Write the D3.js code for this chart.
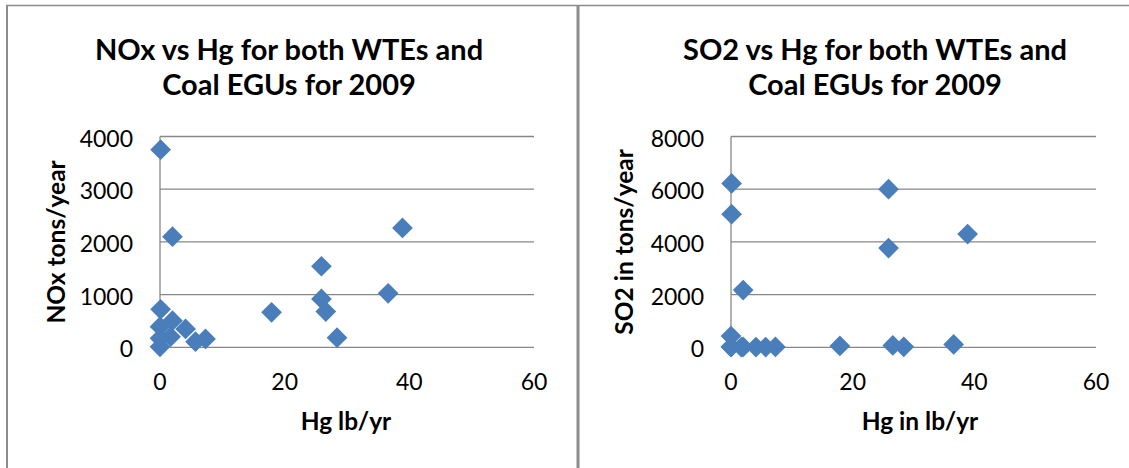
<!DOCTYPE html>
<html>
<head>
<meta charset="utf-8">
<script src="https://cdn.jsdelivr.net/npm/d3@7"></script>
<style>
    body { margin: 0; background: #fff; }
    svg { display: block; font-family: Lato, "Open Sans", sans-serif; }
    .grid line { stroke: #878787; stroke-width: 1.3; }
    .tick-label { font-size: 23px; fill: #000; }
    .axis-title { font-size: 24.5px; font-weight: bold; fill: #000; }
    .chart-title { font-size: 29px; font-weight: bold; fill: #000; }
</style>
</head>
<body>
<svg id="chart" width="1129" height="468"></svg>
<script>
// Hg (lb/yr) per facility, with matching NOx and SO2 (tons/year)
const hg  = [0.1, 0.1, 0, 0, 0, 2.0, 2.0, 1.7, 4.1, 5.7, 7.3, 17.9, 25.9, 25.9, 26.6, 28.4, 36.6, 38.9];
const nox = [3750, 721, 392, 171, 10, 2100, 506, 202, 348, 107, 158, 664, 1538, 917, 677, 183, 1025, 2266];
const so2 = [6220, 5050, 428, 20, 10, 2173, 15, 10, 10, 10, 15, 50, 6000, 3765, 70, 20, 110, 4296];

const xTicks = [0, 20, 40, 60];
const noxTicks = [0, 1000, 2000, 3000, 4000];
const so2Ticks = [0, 2000, 4000, 6000, 8000];

const charts = [
    {
        title: ["NOx vs Hg for both WTEs and", "Coal EGUs for 2009"],
        titleX: 289,
        yTitle: "NOx tons/year",
        yTitleX: 65,
        xTitle: "Hg lb/yr",
        xTitleX: 346,
        left: 160, right: 534,
        yValues: nox, yTicks: noxTicks
    },
    {
        title: ["SO2 vs Hg for both WTEs and", "Coal EGUs for 2009"],
        titleX: 875,
        yTitle: "SO2 in tons/year",
        yTitleX: 633,
        xTitle: "Hg in lb/yr",
        xTitleX: 920,
        left: 731, right: 1096,
        yValues: so2, yTicks: so2Ticks
    }
];

const plotTop = 136.5, plotBottom = 347.3;
const svg = d3.select("#chart");

// outer frame and separator
svg.append("line").attr("x1", 6).attr("x2", 1129).attr("y1", 5.5).attr("y2", 5.5)
    .attr("stroke", "#8c8c8c").attr("stroke-width", 1.5);
svg.append("line").attr("x1", 7).attr("x2", 7).attr("y1", 5).attr("y2", 468)
    .attr("stroke", "#8c8c8c").attr("stroke-width", 2);
svg.append("line").attr("x1", 578).attr("x2", 578).attr("y1", 5).attr("y2", 468)
    .attr("stroke", "#8c8c8c").attr("stroke-width", 3);

const diamond = d3.symbol(d3.symbolSquare, 215);

charts.forEach(c => {
    const x = d3.scaleLinear().domain([0, 60]).range([c.left, c.right]);
    const y = d3.scaleLinear().domain([0, d3.max(c.yTicks)]).range([plotBottom, plotTop]);
    const g = svg.append("g");

    // title
    c.title.forEach((t, i) => {
        g.append("text").attr("class", "chart-title")
            .attr("x", c.titleX).attr("y", 59.5 + i * 35.5)
            .attr("text-anchor", "middle").text(t);
    });

    // gridlines
    const grid = g.append("g").attr("class", "grid");
    grid.selectAll("line.h").data(c.yTicks).enter().append("line")
        .attr("x1", c.left).attr("x2", c.right)
        .attr("y1", d => y(d)).attr("y2", d => y(d));
    grid.append("line")
        .attr("x1", c.left).attr("x2", c.left)
        .attr("y1", plotTop).attr("y2", plotBottom);

    // tick labels
    g.selectAll("text.yt").data(c.yTicks).enter().append("text")
        .attr("class", "tick-label")
        .attr("x", c.left - 27).attr("y", d => y(d) + 10)
        .attr("text-anchor", "end").text(d => d);
    g.selectAll("text.xt").data(xTicks).enter().append("text")
        .attr("class", "tick-label")
        .attr("x", d => x(d)).attr("y", 390)
        .attr("text-anchor", "middle").text(d => d);

    // axis titles
    g.append("text").attr("class", "axis-title")
        .attr("x", c.xTitleX).attr("y", 430)
        .attr("text-anchor", "middle").text(c.xTitle);
    g.append("text").attr("class", "axis-title")
        .attr("transform", `translate(${c.yTitleX},${(plotTop + plotBottom) / 2}) rotate(-90)`)
        .attr("text-anchor", "middle").text(c.yTitle);

    // points
    g.selectAll("path.pt").data(hg).enter().append("path")
        .attr("d", diamond)
        .attr("transform", (d, i) => `translate(${x(d)},${y(c.yValues[i])}) rotate(45)`)
        .attr("fill", "#4a7ebb");
});
</script>
</body>
</html>
